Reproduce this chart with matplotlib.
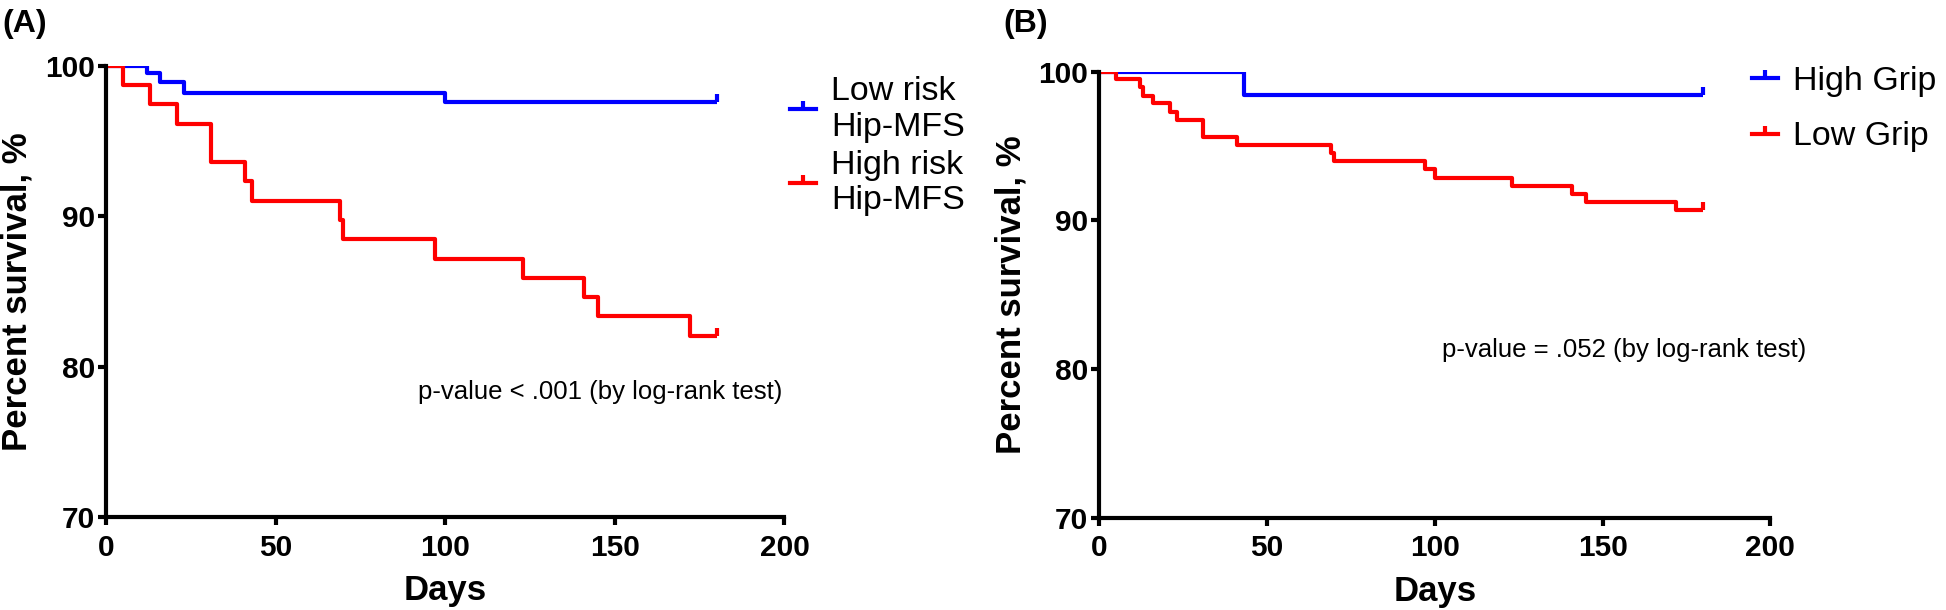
import matplotlib
matplotlib.use('Agg')
import matplotlib.pyplot as plt
from matplotlib.lines import Line2D
from matplotlib.path import Path

plt.rcParams['font.family'] = ['Liberation Sans', 'DejaVu Sans']

# Panel A: Hip-MFS risk groups (Kaplan-Meier steps)
days_low_risk = [0, 12, 16, 23, 100, 180]
surv_low_risk = [100, 99.5, 98.9, 98.2, 97.6, 97.6]
days_high_risk = [0, 5, 13, 21, 31, 41, 43, 69, 70, 97, 123, 141, 145, 172, 180]
surv_high_risk = [100, 98.72, 97.44, 96.15, 93.59, 92.31, 91.03, 89.74, 88.46,
                  87.18, 85.90, 84.62, 83.33, 82.05, 82.05]

# Panel B: grip strength groups
days_high_grip = [0, 43, 180]
surv_high_grip = [100, 98.4, 98.4]
days_low_grip = [0, 5, 12, 13, 16, 21, 23, 31, 41, 69, 70, 97, 100, 123, 141, 145, 172, 180]
surv_low_grip = [100, 99.48, 98.99, 98.36, 97.87, 97.30, 96.74, 95.60, 95.06, 94.54,
                 93.98, 93.44, 92.88, 92.33, 91.78, 91.20, 90.67, 90.67]

labels_a = ['Low risk\nHip-MFS', 'High risk\nHip-MFS']
labels_b = ['High Grip', 'Low Grip']
pvalue_a = 'p-value < .001 (by log-rank test)'
pvalue_b = 'p-value = .052 (by log-rank test)'
x_ticks = [0, 50, 100, 150, 200]
y_ticks = [70, 80, 90, 100]

BLUE = '#0000ff'
RED = '#ff0000'
LW = 3.0

# censor tick: short vertical mark going up from the line
censor = Path([(0, 0), (0, 1)], [Path.MOVETO, Path.LINETO])


def style_axes(ax):
    ax.set_xlim(0, 200)
    ax.set_ylim(70, 100)
    ax.set_xticks(x_ticks)
    ax.set_yticks(y_ticks)
    for side in ['top', 'right']:
        ax.spines[side].set_visible(False)
    for side in ['left', 'bottom']:
        ax.spines[side].set_linewidth(3)
    ax.tick_params(width=3, length=6, labelsize=21.5)
    ax.tick_params(axis='x', pad=6)
    ax.tick_params(axis='y', pad=2)
    for lab in ax.get_xticklabels() + ax.get_yticklabels():
        lab.set_fontweight('bold')
    ax.set_xlabel('Days', fontsize=25, fontweight='bold', labelpad=9)
    ax.set_ylabel('Percent survival, %', fontsize=25, fontweight='bold', labelpad=8)


def km(ax, days, surv, color):
    ax.step(days, surv, where='post', color=color, lw=LW, solid_capstyle='butt')
    ax.plot(days[-1], surv[-1], marker=censor, ms=11, mew=LW, color=color,
            clip_on=False)


def legend(ax, labels, anchor, spacing):
    handles = [Line2D([], [], color=c, lw=LW, marker=censor, ms=11, mew=LW)
               for c in (BLUE, RED)]
    ax.legend(handles, labels, loc='upper left', bbox_to_anchor=anchor,
              bbox_transform=ax.figure.transFigure, frameon=False,
              fontsize=24.5, numpoints=1, handlelength=0.75, handletextpad=0.45,
              borderpad=0, borderaxespad=0, labelspacing=spacing)


fig = plt.figure(figsize=(19.46, 6.10), dpi=100)
axA = fig.add_axes([106 / 1946, 93 / 610, 678.5 / 1946, 451.3 / 610])
axB = fig.add_axes([1099.4 / 1946, 92.5 / 610, 671 / 1946, 445.8 / 610])

km(axA, days_low_risk, surv_low_risk, BLUE)
km(axA, days_high_risk, surv_high_risk, RED)
style_axes(axA)
axA.text(92, 78.3, pvalue_a, fontsize=18.5, va='center', ha='left')
legend(axA, labels_a, (790 / 1946, 1 - 76 / 610), 0.2)

km(axB, days_high_grip, surv_high_grip, BLUE)
km(axB, days_low_grip, surv_low_grip, RED)
style_axes(axB)
axB.text(102, 81.3, pvalue_b, fontsize=18.5, va='center', ha='left')
legend(axB, labels_b, (1752 / 1946, 1 - 66 / 610), 0.72)

fig.text(0.001, 0.985, '(A)', fontsize=23, fontweight='bold', va='top', ha='left')
fig.text(1003 / 1946, 0.985, '(B)', fontsize=23, fontweight='bold', va='top', ha='left')

fig.savefig('out.png', dpi=100, facecolor='white')
